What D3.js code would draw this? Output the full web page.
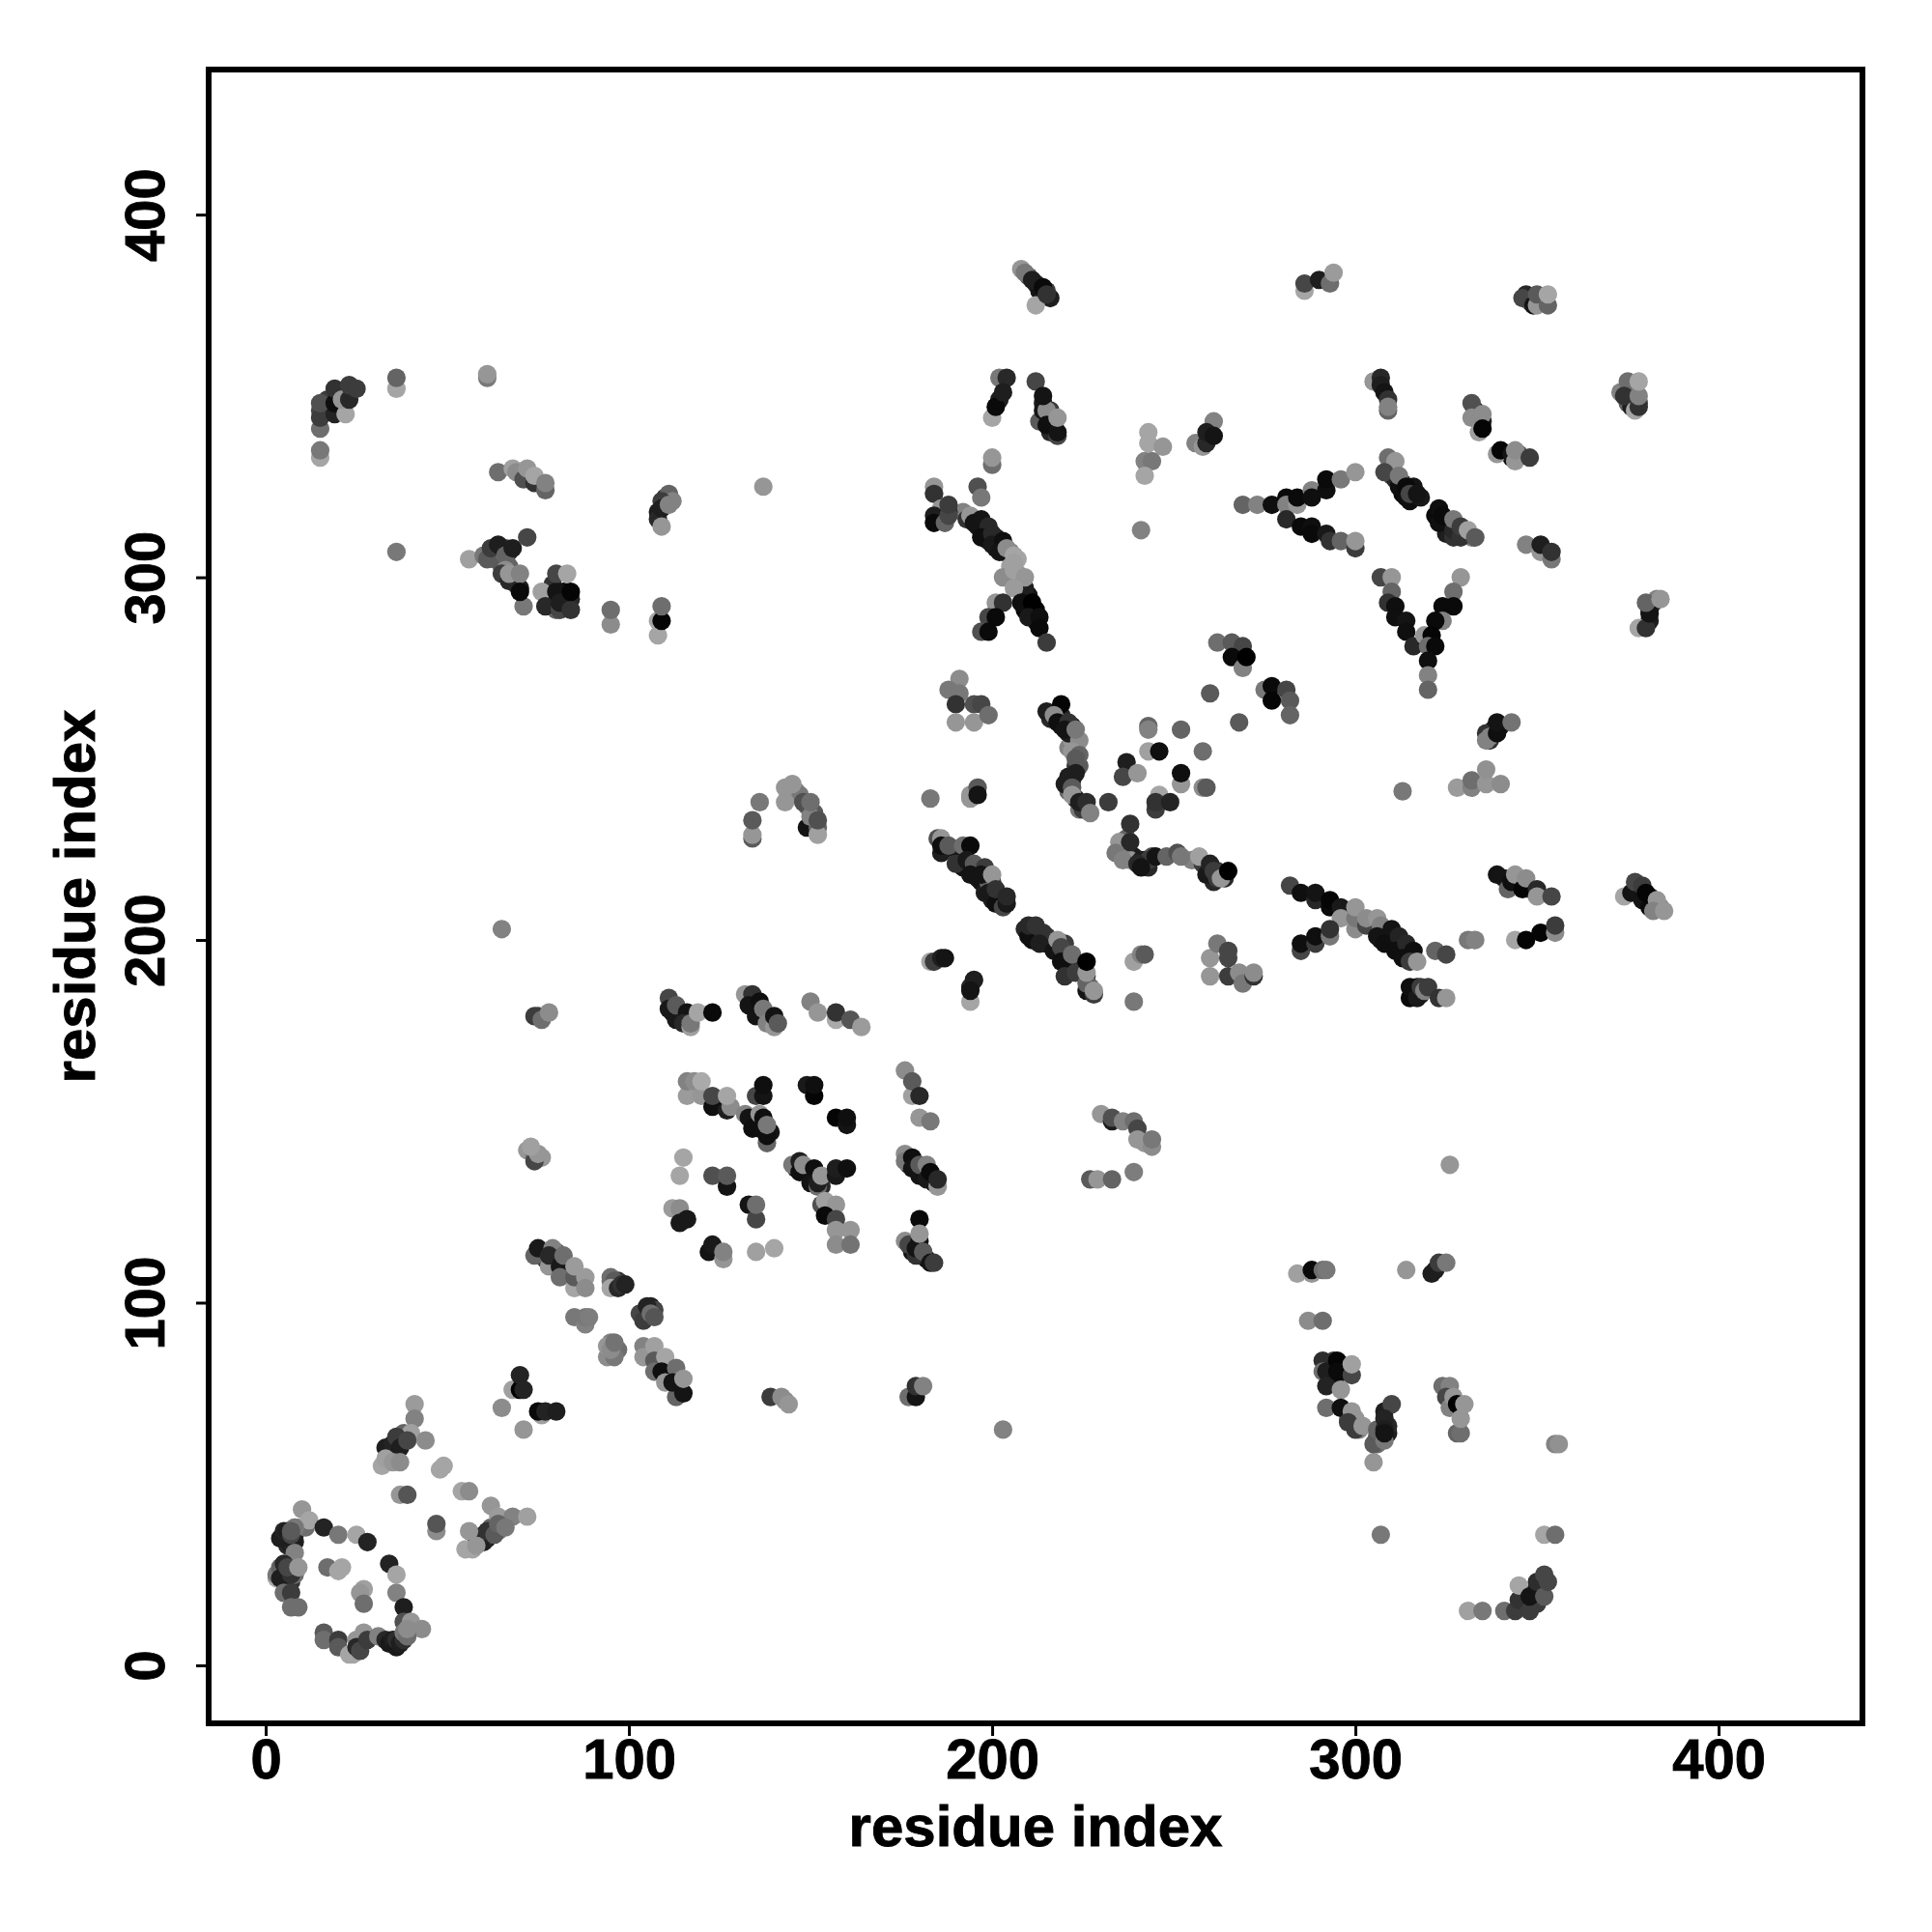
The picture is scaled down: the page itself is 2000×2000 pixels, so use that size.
<!DOCTYPE html>
<html><head><meta charset="utf-8">
<script src="https://cdn.jsdelivr.net/npm/d3@7"></script>
<style>html,body{margin:0;padding:0;background:#fff}svg{display:block}text{font-family:"Liberation Sans",Arial,sans-serif;font-weight:700;fill:#000}</style>
</head><body><svg id="c" width="2000" height="2000"></svg>
<script>
const xTicks=[0,100,200,300,400];
const yTicks=[0,100,200,300,400];
const axisTitle="residue index";
// each contact: [residue i, residue j, grey level]
const ringLow=[[10,43,150],[8,38,160],[12,40,165],[16,38,35],[20,36,120],[25,36,165],[28,34,35],[34,28,35],[36,25,165],[36,20,130],[38,16,30],[38,12,80],[40,12,150],[43,10,140],[16,9,90],[16,7,110],[20,7,60],[20,5,90],[23,3,165],[24,3,165],[27,9,150],[25,7,150],[25,5,40],[26,4,70],[28,7,60],[31,8,130],[33,7,40],[34,6,25],[35,7,30],[36,5,25],[36,7,45],[37,6,30],[38,7,45],[38,9,120],[39,8,110],[39,10,140],[4,35,30],[5,37,35],[6,37,30],[8,34,30],[7,36,70],[8,38,120],[7,37,90],[8,31,130],[3,24,170],[3,25,120],[4,27,100],[5,28,40],[4,24,30],[7,25,50],[6,27,70],[9,27,150],[5,20,110],[7,20,60],[7,16,110],[9,16,110],[17,27,110],[21,27,165],[20,26,165],[27,21,160],[26,20,150],[27,17,110]];
const xLow=[[41,72,155],[41,68,130],[38,64,100],[40,64,160],[33,60,30],[35,61,35],[36,63,60],[37,60,30],[39,62,70],[44,62,140],[32,55,165],[33,57,160],[35,56,150],[37,56,140],[48,54,165],[49,55,165],[37,47,150],[39,47,85],[54,48,165],[56,48,140],[47,37,140],[47,39,85],[62,44,150],[64,41,155],[68,41,130],[72,41,160],[58,35,40],[59,34,30],[60,36,35],[61,37,50],[63,36,90],[64,39,100],[66,38,120],[56,37,150],[55,32,165],[57,32,165],[58,33,150]];
const diagA=[[65,71,140],[71,65,150],[68,76,160],[70,76,0],[70,80,35],[71,76,35],[76,69,160],[75,70,10],[77,70,35],[80,70,30],[74,113,100],[75,115,25],[78,110,150],[79,115,130],[78,113,40],[81,110,25],[82,113,110],[81,107,110],[85,104,165],[85,107,90],[85,110,155],[88,107,155],[88,104,140],[95,107,110],[96,106,90],[95,104,165],[97,104,40],[98,105,50],[99,105,35],[85,96,120],[88,94,130],[88,96,120],[89,96,125],[94,88,150],[96,85,120],[95,87,140],[96,89,115],[104,95,60],[105,99,35],[106,97,110],[107,96,85],[104,88,130],[104,85,150],[107,88,160],[107,84,90],[107,81,110],[110,85,165],[109,81,15],[113,82,110],[110,78,150],[113,74,100],[112,78,20],[115,75,20],[115,79,150]];
const strandA=[[111,184,70],[111,181,25],[113,178,25],[113,182,90],[116,180,20],[115,177,40],[117,176,160],[117,177,120],[119,180,165],[123,180,10],[132,185,150],[134,185,50],[133,182,20],[136,183,15],[135,179,20],[137,181,120],[138,177,130],[140,176,150],[140,179,20],[141,177,90],[150,183,130],[152,180,150],[157,178,170],[157,180,50],[161,178,85],[164,176,155]];
const gridA=[[116,157,155],[116,161,130],[118,161,140],[120,157,150],[120,161,170],[123,154,15],[123,157,70],[127,153,30],[128,154,140],[127,157,165],[132,152,130],[133,151,20],[134,148,15],[136,148,15],[136,152,150],[135,157,70],[137,157,20],[137,160,15],[137,151,15],[138,144,100],[138,146,15],[138,149,120],[149,160,25],[151,157,5],[151,160,15],[157,151,5],[160,149,20],[160,151,15],[176,164,140],[178,157,160],[178,161,90],[180,157,40],[180,151,150],[183,150,120]];
const gridB=[[176,141,140],[176,139,120],[178,140,15],[178,137,20],[180,135,20],[180,138,90],[182,134,25],[182,138,130],[183,136,10],[185,132,150],[185,134,40],[145,138,120],[147,139,30],[147,136,15],[148,138,140],[151,137,15],[150,133,20],[152,132,110],[152,133,30],[153,135,150],[157,135,25],[157,137,30],[160,137,15],[115,140,165],[114,135,165],[123,135,80],[127,132,20],[127,135,90],[112,126,155],[114,126,140],[114,122,25],[116,123,25],[133,127,20],[135,123,70],[135,127,110],[153,127,80],[154,128,160],[157,127,150],[154,124,10],[157,123,70],[157,120,150],[161,120,150],[157,116,140],[161,116,115],[176,117,140],[177,116,70],[180,117,20],[179,115,20],[181,114,15],[181,114,90],[183,111,20],[184,111,60],[180,123,10],[180,119,150],[122,114,20],[123,116,25],[126,112,150],[126,114,130],[135,114,160],[140,115,165]];
const smallLow=[[139,74,60],[142,74,140],[143,73,140],[144,72,150],[177,74,110],[179,74,20],[179,77,50],[181,77,130],[203,65,130],[65,203,130],[74,179,60],[75,179,60],[76,178,110],[78,180,140],[74,139,70],[75,141,150],[73,143,160],[326,138,150]];
const diagB=[[185,228,80],[186,228,150],[186,226,15],[188,226,90],[192,226,110],[190,221,50],[194,226,10],[193,222,25],[195,221,90],[194,218,20],[198,220,60],[197,218,20],[200,218,150],[199,213,25],[201,210,15],[201,214,50],[203,209,70],[204,210,25],[204,212,40],[209,203,40],[210,201,15],[210,204,40],[212,204,50],[214,202,50],[213,199,30],[217,197,20],[218,200,150],[219,198,70],[219,194,15],[222,196,110],[220,190,50],[223,191,60],[226,186,20],[226,188,100],[226,191,150],[226,194,0],[228,185,60],[228,186,150]];
const arcB=[[235,227,150],[238,227,40],[238,232,50],[234,224,120],[236,222,130],[240,221,40],[241,220,20],[245,223,20],[248,223,100],[251,224,80],[252,223,120],[257,223,160],[259,218,25],[260,221,35],[261,219,60],[262,217,60],[263,217,150],[265,219,0]];
const sideB=[[183,194,165],[184,194,60],[186,195,30],[187,195,20],[194,183,165],[194,187,40],[195,189,30],[194,186,20],[239,194,160],[241,196,130],[242,196,90],[239,183,120],[260,195,150],[262,199,120],[265,197,70],[265,195,70],[260,190,150],[265,190,60],[268,191,140],[269,188,120],[272,190,50],[272,191,140]];
const lowerRight=[[230,152,150],[233,150,30],[233,151,80],[236,150,130],[239,150,110],[240,148,70],[240,145,150],[242,144,150],[244,143,140],[244,145,120],[227,134,90],[229,134,150],[233,134,100],[239,136,125]];
const upperMid=[[200,344,165],[200,331,110],[200,333,150],[201,347,10],[202,355,120],[204,355,40],[203,351,30],[213,343,90],[214,346,20],[215,346,140],[215,342,15],[218,339,70],[218,340,20],[218,344,150],[212,354,70],[214,350,20],[243,340,165],[243,337,165],[247,336,150],[242,332,130],[244,332,120],[242,328,165],[261,343,130],[256,337,130],[258,336,150],[259,337,40],[259,340,30],[261,339,20],[241,313,130]];
const topTips=[[208,385,150],[209,384,120],[212,375,165],[211,382,30],[214,380,10],[215,378,50],[286,379,165],[286,381,70],[290,382,30],[293,381,110],[294,384,155],[346,377,70],[349,375,20],[350,375,150],[350,378,90],[353,375,100],[353,378,165],[373,351,130],[375,354,110],[374,350,50],[377,346,165],[378,347,50],[378,350,130],[378,354,165]];
const crossC=[[184,325,150],[184,323,50],[196,325,80],[197,322,120],[186,319,150],[184,317,30],[184,315,10],[187,315,100],[188,317,70],[188,320,60],[194,317,150],[195,315,20],[197,316,20],[199,314,40],[197,311,15],[200,312,40],[200,309,25],[203,310,15],[202,307,20],[204,308,140],[203,300,140],[209,297,30],[206,306,165],[206,304,160],[206,302,160],[209,300,150],[206,297,155],[208,293,15],[211,293,0],[210,289,25],[213,289,15],[213,286,10],[215,282,60],[201,293,150],[203,293,50],[199,289,70],[201,289,10],[197,285,80],[199,285,10]];
const midD=[[191,272,140],[188,269,120],[191,268,120],[190,265,50],[195,265,80],[197,265,70],[190,260,150],[195,260,150],[199,262,110],[215,263,30],[219,265,5],[217,262,140],[218,260,15],[221,260,50],[220,258,20],[223,258,120],[222,252,150],[224,251,100],[223,250,90],[223,246,30],[220,243,30],[222,242,90],[222,240,150],[224,238,30],[226,238,45],[227,235,130],[232,238,60],[243,259,100],[243,258,130],[252,258,100],[243,252,160],[246,252,15],[258,252,110],[237,249,30],[236,245,70],[240,246,150],[252,243,150],[252,246,15],[258,242,140],[259,242,90],[246,240,165],[245,236,60],[245,238,50],[249,238,35],[183,239,120],[194,239,150],[194,240,150],[196,242,90],[196,240,20]];
const starE=[[269,320,100],[273,320,130],[277,320,15],[281,322,10],[281,320,130],[284,320,150],[284,322,10],[288,324,130],[288,322,15],[292,324,15],[292,327,10],[296,327,120],[300,329,150],[281,316,40],[285,314,10],[288,314,15],[288,312,10],[292,312,25],[293,310,50],[296,310,100],[300,308,60],[300,310,150],[309,333,110],[311,332,150],[308,329,70],[312,325,15],[312,328,120],[314,322,15],[314,325,10],[315,323,70],[317,323,20],[322,317,10],[323,319,15],[323,315,15],[324,317,10],[327,313,40],[327,316,120],[329,311,50],[329,314,60],[331,313,160],[333,311,90],[347,309,130],[351,307,150],[351,309,30],[354,305,120],[354,307,50],[262,282,110],[266,282,90],[269,281,70],[266,278,10],[269,275,130],[270,278,0],[275,269,120],[277,270,10],[277,266,5],[281,269,70],[282,266,90],[282,262,100],[260,268,90],[268,260,90]];
const veeE=[[307,300,70],[310,300,150],[310,296,100],[309,293,50],[311,292,15],[311,289,15],[314,288,20],[314,285,15],[316,281,40],[329,300,150],[327,296,110],[324,292,10],[327,292,10],[324,288,130],[322,288,10],[319,284,150],[321,284,5],[320,281,110],[322,281,10],[320,277,15],[320,273,130],[320,269,100],[378,286,165],[380,286,50],[381,290,20],[380,293,100],[384,294,150]];
const upperE=[[305,354,150],[307,355,40],[307,353,30],[308,351,20],[309,349,50],[309,346,100],[309,347,130],[332,348,80],[332,344,140],[335,345,140],[334,340,160],[335,341,5],[339,334,150],[340,335,5],[343,334,20],[344,332,150],[344,335,140],[348,333,60],[336,257,50],[337,256,130],[336,255,130],[339,257,15],[339,260,20],[343,260,115],[313,241,120],[328,242,155],[332,242,130],[332,244,110],[336,243,150],[336,247,145],[340,243,140]];
const rowF=[[282,215,70],[285,213,15],[289,211,40],[289,213,20],[293,209,10],[293,211,5],[296,209,25],[296,206,150],[300,203,140],[300,206,120],[300,209,150],[303,204,70],[303,206,140],[306,206,150],[307,204,130],[306,201,20],[310,203,20],[308,199,15],[312,201,35],[311,197,15],[314,199,40],[313,195,15],[316,197,15],[315,194,60],[317,194,150],[285,197,70],[285,199,15],[289,199,60],[289,201,15],[293,201,120],[293,203,50],[322,197,100],[325,196,70],[331,200,120],[333,200,130],[344,200,165],[347,200,5],[351,202,5],[355,202,140],[355,204,60],[339,218,20],[342,214,100],[343,216,15],[344,218,150],[346,214,5],[347,217,140],[350,214,40],[350,212,150],[354,212,70],[374,212,165],[376,213,20],[377,216,70],[379,215,60],[379,211,20],[381,209,10],[380,213,5],[383,211,150],[382,208,130],[385,208,150],[315,184,10],[315,187,15],[317,184,25],[318,187,60],[319,186,130],[320,187,60],[323,184,50],[325,184,150]];
const lowerG=[[284,108,160],[288,108,150],[288,109,10],[291,109,110],[292,109,120],[314,109,150],[321,108,30],[322,109,30],[323,111,60],[325,111,120],[287,95,140],[291,95,110],[291,84,45],[291,81,110],[292,81,30],[292,77,35],[295,84,5],[295,81,10],[299,80,70],[299,83,160],[296,76,150],[292,71,110],[296,71,15],[299,70,150],[298,67,60],[300,65,60],[302,66,150],[310,72,70],[305,56,150],[305,61,90],[306,65,100],[308,62,120],[308,68,35],[308,65,30],[308,64,20],[324,77,110],[326,77,130],[325,74,70],[326,71,130],[327,74,150],[328,72,0],[330,72,150],[328,64,100],[329,64,110],[329,68,150],[355,61,130],[356,61,145],[307,36,120],[352,36,165],[355,36,110],[331,15,160],[335,15,120],[341,15,110],[344,15,60],[345,18,50],[345,22,165],[348,15,60],[348,19,20],[350,23,45],[352,19,90],[352,25,70],[353,23,70]];
const upperLeft=[[15,333,165],[15,335,120],[15,341,110],[15,344,60],[15,348,80],[19,345,35],[19,348,15],[19,352,50],[22,345,165],[21,349,150],[23,349,40],[23,353,60],[25,352,60],[36,352,165],[36,355,100],[61,355,120],[61,356,150],[64,329,110],[68,330,160],[69,329,140],[71,327,80],[72,330,150],[74,326,50],[74,328,165],[77,324,100],[77,326,130],[108,316,40],[109,319,30],[111,320,130],[109,314,150],[36,307,120],[56,305,160],[60,306,120],[61,305,90],[62,308,60],[64,309,30],[66,306,100],[68,308,30],[72,311,70],[66,302,140],[65,301,60],[67,299,40],[67,301,150],[70,301,130],[71,292,120],[70,296,10],[76,296,160],[77,292,40],[80,296,20],[80,301,70],[83,301,165],[81,291,70],[81,293,30],[84,291,50],[84,296,5],[95,287,140],[95,291,110],[108,284,165],[108,288,165],[109,288,5],[109,292,110]];
const centreLeft=[[134,228,90],[134,229,150],[134,233,90],[136,238,120],[143,238,150],[143,242,150],[145,243,150],[148,238,80],[150,234,130],[150,238,110],[152,229,160],[152,233,80],[137,325,150]];
// densely overlapped contacts that show only partly, drawn first
const denseLow=[[5,35,30],[6,35,35],[6,33,40],[7,33,30],[8,36,40],[7,34,35],[5,26,40],[6,24,40],[7,23,50],[6,28,60],[8,25,110],[9,38,150],[11,38,110],[34,59,30],[35,59,35],[36,60,30],[37,62,35],[38,62,50],[36,61,40],[60,34,30],[61,35,35],[62,36,50],[63,38,80],[62,38,100],[64,37,120],[72,142,150],[74,141,140],[74,140,120],[75,140,100],[76,140,150],[76,114,30],[77,112,60],[79,112,100],[80,114,80],[83,110,120],[84,108,130],[86,106,150],[96,105,60],[97,106,50],[95,106,110],[106,99,30],[105,96,60],[107,98,70],[103,97,70],[94,85,140],[95,89,130],[97,87,110]];
const denseMid=[[135,150,25],[137,149,25],[134,150,30],[139,147,20],[127,155,40],[177,138,60],[179,138,30],[181,136,30],[183,134,15],[184,133,20],[134,183,40],[135,181,20],[137,179,20],[139,178,30],[112,180,30],[114,180,40],[115,179,30],[116,178,50],[178,116,40],[178,114,20],[180,113,25],[182,112,20],[179,113,50],[149,136,30],[150,135,20],[152,135,25],[153,132,40],[146,137,25],[149,231,20],[144,240,130],[146,241,140],[147,240,120],[149,237,100],[151,235,90],[152,231,100]];
const denseB=[[186,224,30],[190,225,30],[191,223,20],[192,220,20],[196,217,30],[197,216,20],[198,213,30],[200,216,60],[202,212,30],[203,211,20],[199,216,100],[200,211,30],[211,200,15],[211,203,40],[213,201,40],[215,199,20],[215,201,60],[216,199,50],[219,196,20],[221,196,30],[220,199,60],[222,193,60],[223,194,20],[224,192,40],[227,187,100],[226,190,60],[237,225,60],[239,223,30],[238,222,150],[243,220,40],[242,222,40],[244,223,80],[236,226,130],[237,228,100],[241,222,30],[243,222,60],[255,222,130],[258,221,60],[260,219,40],[262,219,60],[264,217,40],[261,216,40]];
const denseF=[[302,205,100],[305,205,130],[309,202,30],[310,200,15],[312,198,20],[313,199,20],[314,196,15],[315,197,20],[316,195,40],[307,200,20],[341,217,30],[342,216,30],[345,215,30],[347,215,30],[348,214,60],[378,214,30],[380,211,40],[382,210,120],[381,212,40],[384,209,130],[377,214,15],[317,187,20],[316,185,20],[318,185,40],[293,80,30],[294,82,15],[292,83,30],[296,83,15],[294,84,60],[295,80,20],[298,68,130],[299,67,150],[301,65,130],[300,68,150],[306,63,90],[307,65,40],[307,62,100],[306,61,110],[309,64,30],[309,66,40],[308,70,30],[347,17,40],[349,20,30],[350,21,40],[351,19,60],[350,17,60],[351,22,60]];
const denseUpper=[[210,383,90],[212,381,40],[213,379,20],[216,377,30],[215,379,60],[110,322,50],[111,323,100],[112,321,130],[110,320,30],[108,318,30],[109,321,60],[382,293,60],[383,294,130],[381,288,30],[381,291,40],[192,318,130],[193,316,50],[196,314,25],[198,312,20],[199,310,30],[201,311,30],[201,308,25],[203,307,50],[205,307,120],[207,305,165],[205,303,160],[207,301,150],[210,295,20],[209,291,10],[212,291,5],[212,288,10],[310,330,120],[310,328,80],[311,327,40],[313,326,50],[313,323,10],[315,321,15],[316,322,15],[316,325,20],[318,322,25],[323,317,5],[325,316,15],[326,314,20],[325,312,30],[328,312,60],[330,312,70],[332,311,130],[327,311,50],[221,253,130],[222,255,150],[223,248,60],[224,248,90],[221,245,30],[222,244,40],[224,236,120],[221,241,100],[225,236,60],[223,239,40],[216,261,40],[218,262,20],[219,259,30],[219,262,40],[221,257,30],[222,259,30],[224,255,140],[337,255,50],[338,258,15],[340,259,20],[376,349,40],[375,348,100],[378,348,60],[375,351,80],[377,351,100],[376,347,30],[347,378,40],[348,376,100],[351,376,60],[352,376,120],[348,377,30],[216,343,60],[217,342,130],[216,340,40],[214,348,30],[216,346,60],[333,346,40],[334,343,40],[335,343,30],[343,333,15],[345,334,90],[186,316,20],[188,318,40],[187,317,50],[186,318,90],[20,350,30],[18,347,30],[17,346,50],[17,349,60],[21,351,50],[22,351,40],[15,346,70],[66,308,60],[65,306,70],[63,305,100],[67,307,40],[62,306,80],[64,306,120],[65,303,90],[67,303,100],[68,299,60],[69,298,50],[70,297,30],[69,300,90],[79,298,50],[82,296,15],[82,293,40],[83,293,20],[79,293,50],[80,291,100],[84,294,40],[202,349,30]];

const contacts=[].concat(denseLow,denseMid,denseB,denseF,denseUpper,ringLow,xLow,diagA,strandA,gridA,gridB,smallLow,diagB,arcB,sideB,lowerRight,upperMid,topTips,crossC,midD,starE,veeE,upperE,rowF,lowerG,upperLeft,centreLeft);

const svg=d3.select("#c");
const L=216,R=1928,T=72,B=1784;
const x=d3.scaleLinear().domain([-15.7,439.6]).range([L,R]);
const y=d3.scaleLinear().domain([-16,440]).range([B,T]);
const shade=g=>d3.rgb(g,g,g).formatHex();

svg.append("g").selectAll("circle").data(contacts).join("circle")
  .attr("cx",d=>x(d[0])).attr("cy",d=>y(d[1])).attr("r",9.6).attr("fill",d=>shade(d[2]));

svg.append("rect").attr("x",L).attr("y",T).attr("width",R-L).attr("height",B-T)
  .attr("fill","none").attr("stroke","#000").attr("stroke-width",6);

const heavy=s=>s.attr("fill","#000").attr("stroke","#000").attr("stroke-width",0.9).style("font-family",'"Liberation Sans"').style("font-weight",700);
const ax=svg.append("g").attr("transform",`translate(0,${B})`)
  .call(d3.axisBottom(x).tickValues(xTicks).tickSize(13).tickPadding(8).tickFormat(d3.format("d")));
ax.select(".domain").remove();
ax.selectAll("line").attr("stroke","#000").attr("stroke-width",3);
ax.selectAll("text").attr("font-size",58).call(heavy).attr("dy",null).attr("text-anchor","middle").attr("y",57);

const ay=svg.append("g").attr("transform",`translate(${L},0)`)
  .call(d3.axisLeft(y).tickValues(yTicks).tickSize(13).tickFormat(d3.format("d")));
ay.select(".domain").remove();
ay.selectAll("line").attr("stroke","#000").attr("stroke-width",3);
ay.selectAll("text").attr("font-size",58).call(heavy)
  .attr("x",null).attr("dy",null).attr("text-anchor","middle").attr("transform","translate(-46,0) rotate(-90)");

svg.append("text").attr("x",(L+R)/2).attr("y",1911).attr("text-anchor","middle").attr("font-size",60).call(heavy).text(axisTitle);
svg.append("text").attr("transform",`translate(98,${(T+B)/2}) rotate(-90)`).attr("text-anchor","middle").attr("font-size",60).call(heavy).text(axisTitle);
</script></body></html>
